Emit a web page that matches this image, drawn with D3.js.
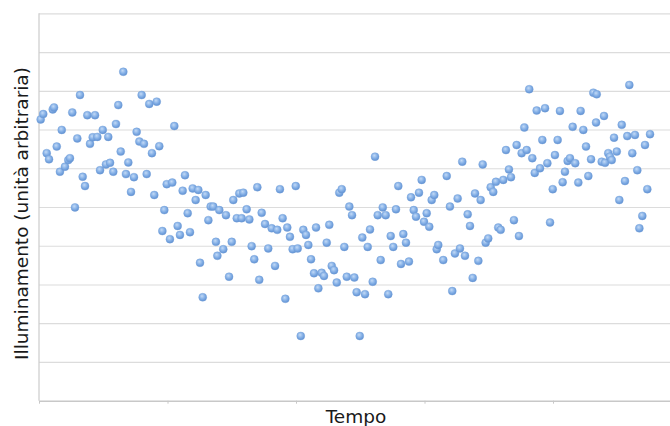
<!DOCTYPE html>
<html>
<head>
<meta charset="utf-8">
<script src="https://cdn.jsdelivr.net/npm/d3@7"></script>
<style>
  html, body { margin: 0; padding: 0; background: #fff; }
  svg { display: block; }
  text { font-family: "DejaVu Sans", Verdana, sans-serif; fill: #1a1a1a; }
</style>
</head>
<body>
<svg id="chart" width="670" height="426"></svg>
<script>
// Misure nel tempo (unità arbitrarie)
const tempo = [
  1.3, 3.3, 10.7, 11.7, 6.0, 7.8, 13.8, 17.7, 16.3, 20.2, 22.8, 24.1, 25.9, 28.0, 29.8, 31.9,
  34.0, 35.8, 37.6, 39.7, 41.8, 43.6, 45.4, 47.5, 49.6, 52.1, 53.9, 55.3, 57.8, 59.9, 61.7, 63.6,
  65.6, 67.7, 69.5, 71.6, 73.9, 76.0, 78.1, 79.9, 81.7, 83.8, 85.8, 87.9, 89.7, 91.6, 93.6, 96.0,
  97.5, 99.4, 101.9, 103.7, 105.3, 107.9, 109.7, 111.8, 113.6, 115.7, 117.5, 119.6, 121.9, 124.0,
  125.3, 127.4, 129.7, 131.8, 133.6, 135.6, 137.7, 138.8, 140.3,
  143.4, 145.5, 147.9, 150.0, 151.2, 153.9, 155.9, 159.0, 157.7, 161.6, 163.7, 165.5, 167.5, 169.9,
  171.4, 173.3, 175.9, 178.4, 181.1, 183.7, 185.4, 187.5, 189.6, 191.7, 193.2, 195.3, 197.4, 199.8,
  201.3, 203.7, 205.7, 207.8, 209.6, 211.7, 214.0, 215.6, 217.4, 220.0, 221.8, 223.9, 225.9, 227.8,
  229.6, 231.7, 233.7, 235.6, 237.6, 239.5, 241.5, 243.6, 245.4, 247.2, 249.6, 251.6, 253.7, 255.8,
  257.6, 259.7, 261.5, 263.6, 265.9, 267.5, 269.8, 271.8, 273.7, 275.7, 277.8, 279.6, 281.7, 283.5,
  285.6, 287.9, 289.5, 291.6, 293.4, 295.7, 297.8, 299.6, 301.7, 303.7, 305.6, 307.6, 309.5, 310.7,
  314.6, 317.3, 319.8, 321.6, 323.7, 325.8, 327.6, 329.4, 331.5, 333.6, 335.4, 337.5, 339.3, 341.9,
  343.7, 345.3, 347.6, 349.6, 351.5, 353.5, 355.6, 357.4, 359.3, 361.3, 363.4, 365.7, 367.3, 369.6,
  371.7, 373.5, 375.6, 377.7, 379.5, 381.5, 383.9, 385.8, 387.3, 389.9, 391.7, 393.8, 395.6, 397.7,
  399.8, 401.5, 403.6, 405.4, 407.5, 409.3, 411.4, 413.2, 415.3, 417.3, 419.7, 421.5, 423.6, 425.7,
  427.5, 429.6, 431.4, 434.0, 433.5, 437.9, 440.5, 439.7, 443.0, 444.3, 445.7, 447.5, 449.6, 451.6,
  453.5, 456.0, 457.8, 459.4, 461.7, 463.8, 465.6, 467.2, 469.5, 471.6, 473.4, 475.5
];

const illuminamento = [
  72.6, 74.0, 75.2, 75.7, 63.9, 62.3, 65.6, 69.9, 59.1, 60.4, 62.1, 62.6, 74.4, 49.9, 67.7, 78.9,
  57.8, 55.4, 73.7, 66.3, 68.0, 73.7, 68.1, 59.5, 69.9, 61.0, 68.1, 61.4, 59.1, 71.4, 76.3, 64.3,
  84.9, 58.5, 61.5, 53.9, 57.7, 69.4, 66.9, 78.9, 66.3, 58.5, 76.6, 63.9, 53.1, 77.2, 65.7, 43.8,
  49.2, 55.9, 41.7, 56.3, 70.9, 45.1, 42.8, 54.2, 58.2, 48.4, 43.5, 54.8, 51.8, 54.4,
  35.6, 26.7, 53.1, 46.6, 50.1, 50.1, 41.0, 37.4, 49.2,
  39.1, 47.9, 32.0, 41.0, 51.8, 47.1, 53.5, 53.7, 47.1, 49.4, 46.8, 39.9, 36.5, 55.1,
  31.2, 48.5, 45.6, 39.3, 44.5, 34.8, 44.1, 54.6, 47.1, 26.3, 44.7, 42.3, 39.1, 55.4,
  39.3, 16.7, 44.1, 42.8, 40.2, 36.5, 32.9, 44.7, 29.0, 33.0, 32.2, 40.8, 45.4, 34.8,
  33.7, 30.5, 53.7, 54.6, 39.7, 32.0, 50.1, 47.9, 31.8, 28.0, 16.7, 42.1, 27.5, 39.7,
  44.2, 30.7, 63.0, 47.9, 36.3, 49.9, 47.9, 27.5, 42.5, 39.7, 49.4, 55.4, 35.3, 43.0,
  40.8, 35.9, 52.5, 49.2, 47.5, 53.7, 57.0, 46.2, 48.4, 44.9, 51.8, 53.1, 39.1, 40.2,
  36.3, 58.0, 50.1, 28.3, 38.0, 52.2, 39.3, 61.7, 37.4, 48.1, 45.1, 31.7, 53.5, 36.1,
  51.8, 61.0, 40.8, 41.9, 55.1, 53.9, 56.5, 44.7, 44.1, 57.0, 64.7, 59.7, 57.7, 46.6,
  66.0, 42.5, 63.9, 70.5, 64.7, 80.4, 62.6, 58.8, 74.9, 60.0, 67.3, 75.5, 61.3, 46.0,
  54.6, 63.4, 67.3, 74.8, 56.4, 59.1, 61.9, 62.6, 70.7, 61.3, 56.3, 74.8, 69.9, 65.6,
  58.0, 62.3, 79.5, 79.1, 71.8, 61.7, 61.4, 73.5, 63.9, 63.0, 62.1, 67.9, 64.3, 51.8,
  71.2, 56.7, 68.3, 81.5, 63.9, 68.6, 59.5, 44.5, 47.7, 66.0, 54.6, 68.8
];

const tickTempo = [0, 100, 200, 300, 400, 500];
const tickIlluminamento = [0, 10, 20, 30, 40, 50, 60, 70, 80, 90, 100];

const data = tempo.map((t, i) => ({ t, v: illuminamento[i] }));

const W = 670, H = 426;
const svg = d3.select("#chart");

const x = d3.scaleLinear().domain([0, 500]).range([39, 681.5]);
const y = d3.scaleLinear().domain([0, 100]).range([400.7, 13.3]);

// gradient for the glossy markers
const defs = svg.append("defs");
const grad = defs.append("radialGradient")
  .attr("id", "marker").attr("cx", "45%").attr("cy", "40%").attr("r", "60%")
  .attr("fx", "40%").attr("fy", "35%");
grad.append("stop").attr("offset", "0%").attr("stop-color", "#c3daf6");
grad.append("stop").attr("offset", "55%").attr("stop-color", "#86b1e7");
grad.append("stop").attr("offset", "100%").attr("stop-color", "#5f90d2");

// horizontal gridlines
svg.append("g")
  .attr("class", "grid")
  .attr("transform", `translate(${x(0)},0)`)
  .call(d3.axisLeft(y).tickValues(tickIlluminamento.slice(1)).tickSize(-(W - x(0))).tickFormat(""))
  .call(g => g.select(".domain").remove())
  .call(g => g.selectAll("line").attr("stroke", "#dcdcdc").attr("stroke-width", 1.2));

// y axis line
svg.append("line")
  .attr("x1", x(0)).attr("x2", x(0))
  .attr("y1", y(100)).attr("y2", y(0))
  .attr("stroke", "#cccccc").attr("stroke-width", 1.2);

// x axis with small ticks, no labels
svg.append("g")
  .attr("transform", `translate(0,${y(0)})`)
  .call(d3.axisBottom(x).tickValues(tickTempo).tickSize(3).tickFormat("").tickSizeOuter(0))
  .call(g => g.select(".domain").attr("stroke", "#c8c8c8").attr("stroke-width", 1.4))
  .call(g => g.selectAll(".tick line").attr("stroke", "#c8c8c8"));

// points
svg.append("g")
  .selectAll("circle")
  .data(data)
  .join("circle")
  .attr("cx", d => x(d.t))
  .attr("cy", d => y(d.v))
  .attr("r", 4)
  .attr("fill", "url(#marker)")
  .attr("stroke", "#76a2da")
  .attr("stroke-width", 0.4);

// axis titles
svg.append("text")
  .attr("x", 356).attr("y", 423)
  .attr("text-anchor", "middle")
  .style("font-size", "18.5px")
  .text("Tempo");

svg.append("text")
  .attr("transform", "translate(28,213.5) rotate(-90)")
  .attr("text-anchor", "middle")
  .style("font-size", "18.5px")
  .text("Illuminamento (unità arbitraria)");
</script>
</body>
</html>
